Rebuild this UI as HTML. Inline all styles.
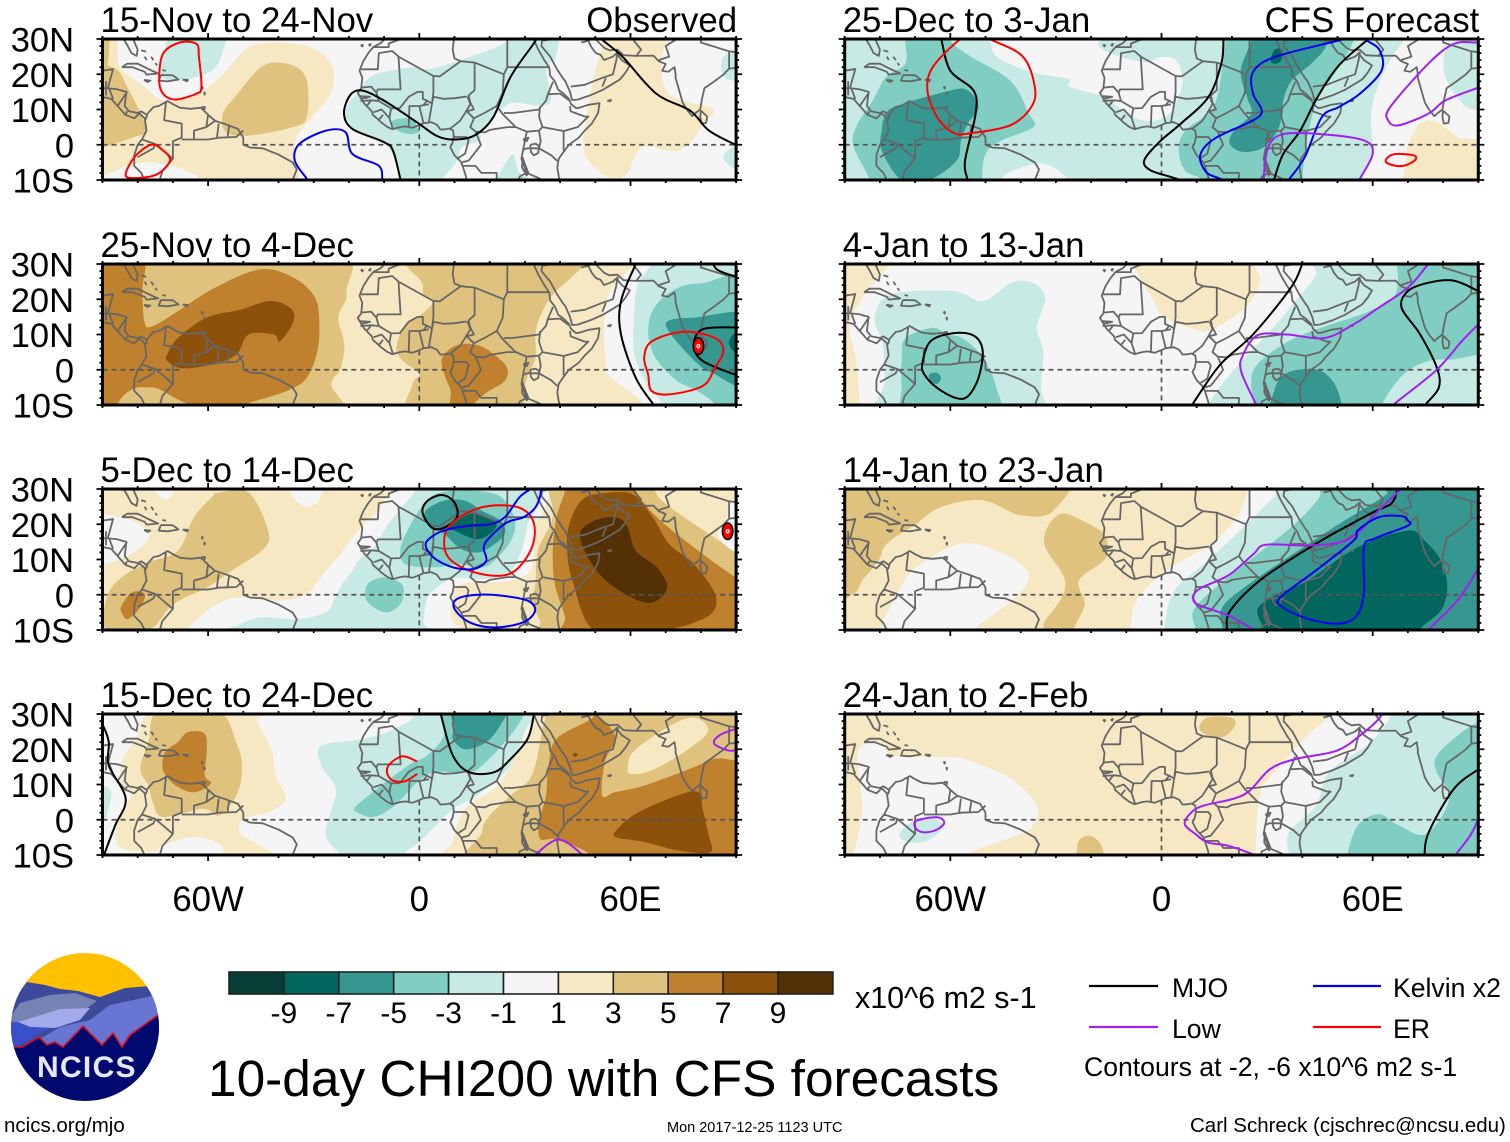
<!DOCTYPE html>
<html lang="en">
<head>
<meta charset="utf-8">
<title>10-day CHI200 with CFS forecasts</title>
<style>
html,body{margin:0;padding:0;background:#fff;width:1510px;height:1142px;overflow:hidden}
svg{display:block}
text{font-family:"Liberation Sans",sans-serif;fill:#000}
</style>
</head>
<body>
<svg id="chart" xmlns="http://www.w3.org/2000/svg" width="1510" height="1142" viewBox="0 0 1510 1142">
  <rect width="1510" height="1142" fill="#fff"/>
  <g id="panels"></g>

  <g id="colorbar"></g>
  <text x="855" y="1008" font-size="30.4">x10^6 m2 s-1</text>
  <text x="208" y="1096" font-size="51.4">10-day CHI200 with CFS forecasts</text>

  <g>
    <line x1="1089" y1="986" x2="1158" y2="986" stroke="#000" stroke-width="2.2"/>
    <text x="1172" y="997" font-size="26.6">MJO</text>
    <line x1="1313" y1="986" x2="1381" y2="986" stroke="#0000ee" stroke-width="2.2"/>
    <text x="1393" y="997" font-size="26.6">Kelvin x2</text>
    <line x1="1089" y1="1027" x2="1158" y2="1027" stroke="#a020f0" stroke-width="2.2"/>
    <text x="1172" y="1038" font-size="26.6">Low</text>
    <line x1="1313" y1="1027" x2="1381" y2="1027" stroke="#ff0000" stroke-width="2.2"/>
    <text x="1393" y="1038" font-size="26.6">ER</text>
    <text x="1084" y="1076" font-size="26.6">Contours at -2, -6 x10^6 m2 s-1</text>
  </g>

  <text x="4" y="1132" font-size="20.5">ncics.org/mjo</text>
  <text x="667" y="1132" font-size="14.5">Mon 2017-12-25 1123 UTC</text>
  <text x="1190" y="1132" font-size="20.5">Carl Schreck (cjschrec@ncsu.edu)</text>

  <defs>
    <clipPath id="logo-clip"><circle cx="85" cy="1027" r="74"/></clipPath>
  </defs>
  <g clip-path="url(#logo-clip)">
    <rect x="10" y="952" width="150" height="150" fill="#ffc000"/>
    <polygon points="5,1010 27,982 45,985 60,989 78,991 100,997 125,988 150,986 165,1000 165,1050 5,1050" fill="#3d4a9a"/>
    <polygon points="5,1025 20,1003 50,995 75,993 97,1001 80,1013 50,1022" fill="#7682b2"/>
    <polygon points="5,1060 60,1027 90,1020 110,1005 152,996 165,1015 165,1060" fill="#6676d2"/>
    <polygon points="18,1022 60,1009 90,1008 80,1020 55,1028 30,1027" fill="#a2aaea"/>
    <polygon points="5,1022 18,1022 30,1027 50,1028 20,1045 5,1052" fill="#3a50c8"/>
    <polygon points="5,1047 22,1047 39,1037 47,1045 55,1042 63,1047 83,1026 102,1045 113,1033 122,1047 130,1035 165,1010 165,1105 5,1105" fill="#000a6e"/>
    <polyline points="5,1047 22,1047 39,1037 47,1045 55,1042 63,1047 83,1026 102,1045 113,1033 122,1047 130,1035 165,1010" fill="none" stroke="#e01020" stroke-width="1.6"/>
  </g>
  <text x="37" y="1077" font-size="30" font-weight="bold" letter-spacing="1.3" style="fill:#e8e8f2">NCICS</text>
</svg>

<script>
const fillColors = {'-10':'#063f36','-8':'#01665e','-6':'#35978f','-4':'#80cdc1','-2':'#c7eae5','0':'#f5f5f5','2':'#f6e8c3','4':'#dfc27d','6':'#bf812d','8':'#8c510a','10':'#543005'};
const colorbarValues = [-10,-8,-6,-4,-2,0,2,4,6,8,10];
const colorbarTicks = [-9,-7,-5,-3,-1,1,3,5,7,9];
const lonTicks = [-60,0,60];
const lonLabels = ['60W','0','60E'];
const latTicks = [30,20,10,0,-10];
const latLabels = ['30N','20N','10N','0','10S'];
const panelTitles = ['15-Nov to 24-Nov','25-Nov to 4-Dec','5-Dec to 14-Dec','15-Dec to 24-Dec','25-Dec to 3-Jan','4-Jan to 13-Jan','14-Jan to 23-Jan','24-Jan to 2-Feb'];
const contourColors = {mjo:'#000000',kelvin:'#0000ee',low:'#a020f0',er:'#ff0000'};

/* Geography: flat lon,lat lists */
const coastlines = [
 [-9.6,31,-9.8,30,-11,28.8,-13,27.8,-14.5,26,-15.9,23.7,-17,21,-16.2,19,-16.5,16,-17.5,14.7,-16.7,13.4,-15.7,11.8,-14.5,10.5,-13.5,9.5,-13.2,8.5,-11.5,7,-10.8,6.3,-9,5,-7.7,4.4,-5.5,5,-4,5.2,-2,4.8,-0.2,5.5,1.2,6.1,3.4,6.4,5,5.7,6,4.3,7.5,4.4,8.5,4.6,9.6,4,9.8,2.3,9.4,0.4,8.8,-0.7,10,-3,11.8,-4.8,12.3,-6,13.2,-8.8,13.7,-11],
 [32.5,31,32.5,29.9,33.8,27,35.5,24,36.9,22,37.2,19.6,38.5,18,39.5,15.6,41,14.5,42.5,13,43.1,11.6,44.5,10.4,45.5,10.5,48,11.3,51.2,11.8,50.8,9,49,6,47,4,45.3,2,42.5,0,41,-2,39.6,-4,39.2,-6.5,39.8,-10,40.5,-12],
 [34.9,31,34.9,29.5,34.7,28,37.2,25,39.1,21.5,40.7,19,41.5,18,42.8,15,43.4,12.7,45,12.8,48.5,14,52,15.5,54.5,17,57,18.5,58.6,20.5,59.8,22.5,57.5,24,56.4,25.4,56.3,26.2,55,25,52.5,24,51.5,25.5,50.2,26,49,27.5,48,29.5,48.8,30.2,50,30,52.5,27.5,54,26.8,56.3,27,58,25.4,61.5,25.2,66.5,25.3,67,24.8,68,23.7,70,22.9,69,21,70.7,20.7,72.5,22,72.8,20,72.8,19,73.8,15.5,74.8,12,76,10,77.5,8.1,78.5,9,79.8,10,80.3,13,81,16,83.4,17.7,86.5,20,88,21.6,92,22],
 [80,9.7,79.8,8,80.2,6,81.5,6.2,81.8,8,80,9.7],
 [-81.5,31,-81.3,30,-80,27,-80.3,25.2,-81.8,26,-82.8,28,-84,30,-86,30.5,-92,30],
 [-92,21,-90,21,-87,21.5,-87.8,18.5,-88.5,16,-86,15.8,-83.2,15,-83.7,11,-82.5,9.5,-80,9,-79,9.5,-77.5,8.5,-75.5,10.7,-74,11,-71.5,12.4,-70,11.5,-68,10.5,-65,10.2,-62,10.5,-60,8.5,-58,6.8,-55,5.8,-51.5,4.5,-50,2,-50,0,-48,-0.8,-44.5,-1,-40,-2.8,-36,-5,-34.8,-7,-36,-10,-37,-12],
 [-92,14,-87.5,13,-85.7,11,-83.5,8.5,-81,7.5,-79.5,8.9,-78,7.5,-77.5,4,-78.8,1.5,-80,0,-81,-3,-81,-6,-79,-8,-78,-10,-77,-12],
 [-84.5,22,-83,23,-80,23,-77,21.5,-74.2,20.2,-77.5,19.9,-78,20.7,-81.5,22,-84.5,22],
 [-73.4,19.8,-70,19.7,-68.4,18.5,-71.5,18,-74,18.2,-73.4,19.8],
 [-78.2,18.4,-76.4,18.2,-77.2,17.8,-78.2,18.4],
 [-67.2,18.5,-65.7,18.4,-66,18,-67.2,18.5],
 [-79,26.8,-77.6,26.4],
 [-78,25,-77.5,24],
 [-76.2,25,-75.5,24],
 [-75,23.2,-74.5,22.5],
 [-73,21.2,-72,21],
 [-61.8,10.7,-60.9,10.7,-61,10.1,-61.8,10.1,-61.8,10.7],
 [-61.9,16.5,-61.5,16.3,-61.6,15.9,-61.9,16.5],
 [-61.1,15,-60.9,14.6,-61,14.2,-61.1,15],
 [-16.6,28.4,-16,28.2,-16.2,27.9,-16.6,28.4],
 [-14.4,28.3,-13.8,28.6,-14,28.1,-14.4,28.3],
 [53.4,12.5,54.5,12.7,54.2,12.3,53.4,12.5],
 [31.5,0,33,0.3,34,-0.3,33.8,-2.3,32.5,-3,31.7,-2,31.5,0],
 [29.3,-3.5,29.2,-6.5,30.5,-8.7,31,-8,29.8,-5,29.3,-3.5],
 [29.5,1.5,31,2,30.5,1,29.5,1.5]
];
const borders = [
 [-13,27.7,-8.7,27.7,-8.7,28.7,-4,30.5],
 [-16.6,21.4,-11.8,21.4,-11.5,26,-7.7,26.6,-5.9,25,-5.3,15.7,-11.8,15.7,-12.2,14.8,-13.7,16.5,-16.5,16.2],
 [-5.9,25,4,19.5,5.8,19.4,11.8,23.7,10,24.5,9.5,27,9.9,30.5],
 [11.8,23.7,15.7,23.3,24,20,23.7,14.7,22,11,23.7,8.7,27.4,5,30.5,3.7,34,4,35,5,41,3.9,45,5,48,8,47,8,43,9.5,42.8,11],
 [24,20,25,22,25,31],
 [25,22,36.9,22],
 [15.7,23.3,15.7,15.5,14,14,14.5,12,15.5,10,13.5,9.5,15.5,7.5,14.5,5,16,3.7,18.6,3.5,20,4.2,25,5,27.4,5],
 [15.5,7.5,18.5,9,22,11],
 [13.5,13.7,10,13.2,7,13,4,13.6,3.6,11.7,2.7,6.3],
 [4,19.5,4,15,3.6,11.7],
 [3.6,11.7,2.2,12.5,1,13,1,15,-0.5,15,-3,13.6,-5.5,10.4,-8,10.3,-8.5,7.6,-7.5,4.5],
 [-3,5,-2.8,11,0,11,1.2,6.1],
 [0,11,2.7,11.5],
 [1,11,2.2,12.5],
 [-12.2,14.8,-11.5,12.4,-8,10.3],
 [-16.7,12.4,-13.7,12.6,-11.5,12.4],
 [-15,10.9,-13.7,12.6],
 [-13,9.2,-10.7,10,-8.5,7.6],
 [-11.5,7,-10.3,8.5],
 [-16.8,13.8,-14,13.6,-15.5,13.2,-16.8,13.1],
 [13.7,13.7,14.5,11.5,13,9,11.5,6.7,8.7,4.5],
 [9.7,2.2,13.3,2.2,14,1.2,13,-2.5,11,-3.8],
 [16,3.7,17.5,0,16,-2,14,-4.5,12.2,-5],
 [12.3,-6,16,-6,17.6,-8,22,-8,22,-12],
 [24,9,26.5,9,34,10,34.5,11],
 [36.5,14.3,36,12.5,34.3,10.5,34,8,35,5],
 [36.5,14.3,38,17.9],
 [36.5,14.3,40,14.5,42.5,12.6],
 [41,3.9,41,-1.6],
 [34,4,34.5,1,34,-1,37.5,-3,39.2,-4.6],
 [30.5,3.7,29.5,-1.5,29,-4,30.5,-8,28.5,-9,28,-12],
 [29.5,-1.5,30.5,-1,34,-1],
 [30.5,-8,34,-9.5,34.7,-12],
 [34,-9.5,37.5,-11.5,40.5,-10.5],
 [35,29.5,38,30,39,32],
 [43,16.5,47,17,52,19,55,20,56,24,56.2,25.8],
 [52,16.5,53,19],
 [48,29.5,46,29],
 [61.5,25,63,27,61,29.5,61,31],
 [68,24,71,25,70,28,74,30.5],
 [80,30,80,29,88,26.5,92,26],
 [88,26.5,88,21.8],
 [-72,12,-72.5,7,-67.5,6,-67.5,2,-70,1,-70,-4,-73,-7.5,-74,-11],
 [-80,-3.5,-75.5,-1,-75,0.2,-78.8,1.5],
 [-75,0.2,-70,-4],
 [-67.5,1.5,-64,1.5,-64,4,-60.5,5,-60,8.5],
 [-64,1.5,-60,1.5,-57,2,-52,2.2,-50,4],
 [-60.5,5,-58,6.8],
 [-57,6,-57.5,2],
 [-54,5.5,-54.5,2.2],
 [-88,15.7,-87,13],
 [-83,15,-85.7,11],
 [-83,9.5,-83.5,8.5],
 [-89,18,-89,14],
 [-92,16,-89,16],
 [-77.3,8.5,-77.7,7.2],
 [-70,-10,-70,-12]
];

/* Each filled region: [value bin, [lon,lat,...]] painted in order */
const fillsP1 = [
 [0,[-95,35,95,35,95,-15,-95,-15]],
 [2,[-95,35,-87,35,-85.7,29.6,-85,22,-78,16.4,-72.8,12.6,-64.6,13.5,-56.5,19.2,-49.7,26.8,-42.9,29,-32,28,-25,23,-25.2,14.5,-32,6,-35.4,0.3,-36,-15,-62,-15,-62,-10,-67.3,-6.8,-71.4,-5.9,-77,-5,-83.7,-6.3,-90,-9,-95,-9]],
 [2,[52.4,35,70,35,70,29.6,68.7,22,71.4,14,82.3,10.7,83.7,9.3,81,6,74,-1.6,63.3,-0.7,59,-8.2,53.7,-9.2,47,-2.6,47.6,8.8,49.7,20,52.4,29.6]],
 [4,[-95,21.6,-86.4,21.6,-83,16.4,-79.6,9.7,-77.6,4,-81,2.2,-90,-0.7,-95,-0.7]],
 [4,[-90,31,-88,31,-88,29,-88.5,23,-90,22,-92,24]],
 [4,[-55.8,8.8,-52.4,13.5,-44.2,22.5,-36,22.5,-32,18.3,-32,7.8,-36,5,-48.3,2.6,-55,3.6]],
 [-2,[-17,15.4,-13,19.7,-2,22,3.4,21.6,17,25.8,25,29.6,25,35,38.8,35,38.8,24.9,36,22,37.4,12.6,33.3,11.2,25.5,11.6,18.4,5,17,1.2,12.2,-0.7,10.2,-5.4,6.8,-9.6,6,-15,-5,-15,-5.4,-9.6,-6,-6.3,-10,0.3,-19.7,5,-21,9.7]],
 [-2,[21,-12,24,-6,26.5,-2.8,27.5,-5,29,-8.5,35,-11,35,-15,21,-15]],
 [-2,[-72,35,-72,29,-73.5,21,-71.5,18.3,-67.3,18.3,-59,21,-55.8,26.8,-55,35]],
 [-2,[86,24,88,26,95,26,95,18,88,18.5,86,20.5]],
 [-2,[90,-0.2,86.4,-3.5,90,-7,95,-7,95,0]],
 [-4,[-7.5,6.9,-2,7.4,-0.7,5,0,3.6,-3.4,3.1,-6.8,4.5]]
];
const fillsP2 = [
 [0,[-95,35,95,35,95,-15,-95,-15]],
 [2,[-95,35,62,35,61,30,54,22,52.5,12,53,0,53,-15,-95,-15]],
 [-2,[68,35,66,30,62,24,61,15,61,5,64,-3,68,-8,72,-15,95,-15,95,35]],
 [-4,[95,24,80,24.5,73,23,67,18,65,11,67,3.5,73,-3,79,-6,84,-10,84,-15,95,-15]],
 [-6,[95,15,78,14.8,71,14,70.5,11.5,75.5,5.3,80.5,0.5,84,-1.3,90,-4.6,95,-5]],
 [-8,[95,10.5,90,10.5,88,7.7,90,4.8,95,4.8]],
 [4,[-95,35,-26,35,-20.7,22,-23,15,-21.3,7,-22.5,0,-25,-4,-26,-15,-95,-15]],
 [4,[-5,35,-4,30,0.6,25,1.2,21.4,4,19.5,0.6,15.7,-4,12.9,-6.5,6.2,-4.7,2.5,0,-1.3,-2,-4.2,-2.4,-15,26,-15,30,-4.2,31,-1.3,33,3.4,33,10,34.3,15,38,21.4,46,29,48,35]],
 [6,[-95,35,-78.7,35,-78.7,22.3,-78,13.3,-75.7,12.4,-68.6,16.6,-58,23.3,-45,28.5,-35.5,26,-29.6,20.4,-28.4,12.9,-29,5,-32,-2.3,-36.7,-5.6,-45,-8.4,-53,-10.2,-65,-9.8,-74,-5.5,-77,-5,-81,-5.3,-85,-8.5,-88,-15,-95,-15]],
 [8,[-71.6,4.3,-68.6,9,-60.4,14.8,-50.9,17,-42.6,19.5,-36.7,17.6,-35.7,13.8,-39.6,8.1,-41.4,10,-48.5,10,-52,4.3,-59,1.5,-67.5,0.4,-71.6,2.5]],
 [6,[6.5,3.4,10.7,7,16.6,7,21.3,4.3,24.9,0.6,24.3,-3.2,19,-6.5,14,-10.5,9,-10.5,8.9,-6,7.1,-1.3]]
];
const fillsP3 = [
 [2,[-95,35,95,35,95,-15,-95,-15]],
 [0,[-36.7,31,-28.4,31,-28.4,26.8,-32,25,-35.5,27.2]],
 [0,[-76,31,-69,31,-72,27]],
 [0,[-95,22,-85,22,-78,19,-77,16,-80.5,12.5,-86.4,9.6,-95,9.2]],
 [0,[-8,35,-8.3,30,-11.8,23.8,-16.6,19,-22.5,11.5,-27.2,5.9,-32,0.2,-40,-1.7,-51,-0.8,-58,-3,-66,-10,-66,-15,9.5,-15,8.9,-6.5,9.5,-1.7,12,3,26,4,32,7.8,33,19,36,25.7,36,35]],
 [-2,[-1.2,35,-1.2,29.5,-5.9,23.8,-9.5,19,-13,13.4,-16.6,10.6,-19,6.8,-22,3,-24.3,-1.7,-26.6,-5,-34.3,-6.9,-45,-6.4,-52,-8.8,-54.4,-10.2,-55,-15,0,-15,1.2,-7.4,2.4,-0.8,7.1,3.5,11.8,4.9,17,4.4,24.9,5.9,29,12.5,30.8,20,33,24.8,32,35]],
 [-4,[1.2,25.7,-2.4,20,-5.3,13.4,-4,8.7,4.7,7.8,10.7,8.7,17.8,7.8,21.3,9.6,26,15.3,27.2,21,24.3,26.7,20,29,10.7,29.5,4.7,28.6]],
 [-4,[-15.4,0.2,-14.2,3.5,-9.5,4.9,-4.7,2.6,-5.3,-2.6,-9.5,-5,-14.2,-2.6]],
 [-6,[2.4,20,1.8,23.8,7.1,26.7,13,26.7,17.8,23.8,23,21,24.3,17.2,20,13.4,16.6,12,11.8,13,7.1,17.2]],
 [-8,[8.3,19,14.2,22.9,19,22,22,20,20,17.2,16,15.8,10,18.2]],
 [4,[36.7,35,36.7,29.5,37.9,22,33.7,12.5,33,3,32,-1.7,34.3,-7.4,38,-15,95,-15,95,12,90,12,85.2,15.3,71,25,66.9,29.5,66,35]],
 [6,[42,35,41.4,29.5,39,22,37.9,12.5,38.5,3,41.4,-6.4,42.6,-15,95,-15,95,3,90,4.9,79.3,12.5,67.5,22,61.5,29.5,60,35]],
 [8,[46,26.7,51,28.6,60.4,28.6,66.3,22,71,14.4,78,8.7,84,0.2,82.8,-5.5,73.4,-9.3,65,-9.7,49.7,-10,43.8,3,42,12.5,42.6,20]],
 [10,[45.6,17.2,49.7,21,55.6,22,59,19.6,61.5,12.5,67.5,7.8,70.4,2,66.3,-2.2,60.4,-0.8,53,4,48.5,9.6]],
 [0,[95,27,89,27,87,21,85,16.5,90,12,95,12]],
 [4,[-59,27.6,-56.8,29,-48.5,29,-43.2,19,-43.8,13.4,-53.3,6.8,-60.4,2,-69.8,-2.6,-76.9,-10,-88.8,-10,-88.8,-0.8,-84.6,4.9,-76.9,9.2,-68.6,12.5,-64,22]],
 [6,[-84.6,-3.1,-81.6,0.7,-78,0.2,-79.3,-3.6,-82.8,-6.9,-84.6,-5]]
];
const fillsP4 = [
 [0,[-95,35,95,35,95,-15,-95,-15]],
 [2,[-74.6,31,-46,31,-46,27.7,-42,20,-40.8,12.6,-37.9,6,-42.6,2.2,-49.7,0.3,-51,-3.5,-46,-7,-41.4,-9.8,-41,-15,-55.6,-15,-55.6,-9.8,-56.8,-6.8,-64,-4.9,-72.8,-7.3,-75,-9,-85,-7.8,-85.8,-0.7,-82,6.9,-84.6,10.7,-84.6,16.4,-80.5,23]],
 [4,[-74,31,-57.4,31,-52,22,-50.3,14.5,-52,6.9,-56.8,1.2,-61.5,3.1,-72.8,0.8,-75.7,5,-77,9.7,-79.3,14.5,-77,22]],
 [6,[-68.6,22,-65.7,24.9,-61,24.4,-60.4,19.2,-61,12.6,-59.2,10.2,-64,7.8,-69.2,9.7,-72.8,14,-72.2,19.2]],
 [-2,[-95,10,-90,9.7,-87.5,7.8,-88.8,1.2,-90,-0.7,-95,-1]],
 [-2,[-1.2,35,-1.2,29.6,-7,25.8,-15.4,23,-27.8,21,-27.8,15.4,-23.7,8.8,-24.9,3.1,-26.6,-4.4,-22.5,-10,-20,-15,-6,-15,-4.7,-10,0,-6.3,9.5,3,16.6,7,26,15.4,30,25,33,29.6,33,35]],
 [-4,[5.9,35,5.9,29.6,7,23.9,2.4,18.3,-2.4,15.9,-9.5,10.7,-17.8,4,-17.8,2.2,-13,0.8,-7,4,0,11.2,4.7,13.5,14.2,13.5,17.8,15.4,24.3,22,29.6,29.6,29.6,35]],
 [-6,[10,31,23.7,31,23,26.8,19,22,13,20,9.5,23,10,26]],
 [2,[33,35,33,29.6,26,15.4,21.3,8.8,13,3.1,9.5,-6.3,8.9,-15,95,-15,95,35]],
 [4,[36,35,36,29.6,35,25.7,32,12.6,26,6.9,20,1.2,17.8,-3.5,17.8,-15,95,-15,95,35]],
 [2,[59.3,15.5,61.5,20,73,27.6,79,28.8,82,24.9,75.2,19.2,66,14,60,13]],
 [6,[49,31,49,28.7,39,23,36.7,15.4,36,6.9,34.3,0.3,34.3,-5.4,39,-5.6,48.5,-9.8,50,-15,95,-15,95,16.8,90,16.8,84,17.3,77,14.5,63.9,9.7,55.6,7.8,52,6.9,52.7,16.4,55.6,23.9]],
 [8,[56,-3,61.5,1.7,73.4,6.9,79.3,7.8,80.5,3,82.2,-4.4,82.6,-9.2,73.4,-8.7,64,-6.3,56,-5]],
 [8,[44,19,45,18.6,44.5,17.8,43.8,18]]
];
const fillsP5 = [
 [-2,[-95,35,95,35,95,-15,-95,-15]],
 [0,[-48.5,35,-48.5,29.6,-46.7,24.9,-37,20.6,-26.7,18.7,-26,16.4,-16.4,13.5,-7.9,7.8,-1.8,6.9,3,9.7,6,18,4.2,23.9,0,24.9,-5.5,23.5,-17.6,27.7,-17,35]],
 [0,[-45.5,-9.6,-40.6,-6.8,-33.4,-5.4,-26.7,-9.6,-26,-15,-46,-15]],
 [0,[69,35,68.6,29.6,66,25.8,62.5,19.2,60,11.6,59.5,6,60,-2.6,57,-9.6,56,-15,95,-15,95,9.7,90,9.7,85.6,11.6,80.7,19.2,80.7,26.8,85.6,29.6,86,35]],
 [2,[69.8,-0.7,73.4,6,78.3,6.4,84.3,2.2,90,1.7,95,1.7,95,-15,68,-15,68.6,-9.6,69.8,-4]],
 [-4,[-72.8,35,-72.8,29.6,-72.8,23,-78.3,19.2,-82,12.6,-86.8,5,-87.4,-0.7,-83,-9.6,-82,-15,-51,-15,-51,-9.6,-50,-2.6,-45.5,1.2,-36.4,5,-37.6,8.8,-43,18.2,-54,24.9,-60,29.6,-60,35]],
 [-6,[-79.5,4,-78.3,8.8,-74.6,11.2,-60,15.4,-55,15.4,-52,10.7,-55,6,-57,1.2,-57.6,-3.5,-61.3,-7.3,-67.4,-10.5,-74,-10,-79.5,-1.6]],
 [-4,[18.2,35,18.2,29.6,17,20,15.8,13.5,13.3,8.8,6.7,4,4.9,-1.6,6.7,-7.3,11.5,-10,12,-15,40,-15,40,-9.6,41.3,1.2,44.3,12.6,50.4,22,54.6,29.6,55,35]],
 [-6,[25.5,35,25.5,29.6,22.5,21,24.3,13.5,25.5,8.8,20.6,4,19.4,0.3,23,-2,29,-0.7,33.4,5,34.6,12.6,37,18.2,42.5,23,46.7,28,47,35]],
 [-8,[31,24,32.2,27,34.3,27,34,24,32.2,23]]
];
const fillsP6 = [
 [0,[-95,35,95,35,95,-15,-95,-15]],
 [2,[-95,35,-77.4,35,-77.4,30,-81.5,25,-85,20.4,-88.6,12.9,-86.9,3.4,-85.7,-9.5,-85.7,-15,-95,-15]],
 [2,[-8,35,-8,30,-2.2,19.5,0.7,14.8,9.6,11.4,14.3,11.4,21.4,15.7,26,20.4,28,26,26,30,26,35]],
 [-2,[-81.5,14.8,-76.8,21.4,-59,22.3,-50.8,19.5,-42.5,24.7,-36.6,24.7,-33,20.4,-35.4,11.9,-33.6,5.3,-34.2,-5,-33,-9.5,-33,-15,-78.6,-15,-78.6,-3.2,-79.2,7.2]],
 [-4,[-73.8,3.4,-72.7,9,-65,11.9,-60.8,10,-56.7,9,-51.4,4.3,-47.2,-4.2,-47,-15,-72,-15,-73.8,-4.2]],
 [-6,[-66,-1.3,-63.8,-0.9,-62.6,-2.3,-63.8,-4,-65.6,-3.2]],
 [-2,[13,-15,13.7,-9.5,20.2,-0.4,30.9,11,38,19.5,43.9,27,45,35,95,35,95,-15]],
 [-4,[26,-15,26,-9.5,26,-0.4,33,6.2,42.7,11,59,16.6,66.4,21.4,67,30,67,35,95,35,95,5,90,4.3,83,3,75.9,2.5,68.8,-1.3,62.8,-9.5,62,-15]],
 [-6,[32,-6,35.6,-0.9,43.9,0.1,48.6,-3.2,51,-9,51,-15,32,-15]]
];
const fillsP7 = [
 [2,[-95,35,95,35,95,-15,-95,-15]],
 [0,[-79.8,-9.8,-75.6,-0.7,-69.7,7.8,-56.7,14.5,-44.9,11.6,-37.8,6,-41.3,-0.7,-53.2,-9.8,-55,-15,-80,-15]],
 [0,[-9,-15,-8.8,-9.8,-7,-1.6,1.3,6.9,14.3,14.5,21.4,22,24.4,29.6,25,35,95,35,95,-15]],
 [-2,[0.7,-15,0.7,-9.8,3.7,1.2,14.3,10.7,26.2,22,33.3,29.6,34,35,95,35,95,-15]],
 [-4,[9.6,-15,9.6,-9.8,9.6,-3.5,21.4,6.9,36.8,19.2,45,28,46,35,95,35,95,-15]],
 [-6,[17.3,-15,17.3,-9.8,17.3,-3.5,26.2,4,47.5,18.2,62.8,27.7,64,29.6,65,35,95,35,95,-15]],
 [-8,[27.3,-4,33.3,0.3,41.5,4,55.7,13.5,70,18.2,74.7,15.4,79.4,9.7,81.2,2.2,79.4,-4.4,73.5,-9.8,73,-15,30,-15,29,-9.8]],
 [4,[-95,35,-30.7,35,-30.7,23.9,-40,22.5,-50.8,26.8,-62.6,24.9,-69.7,20.1,-78,14.5,-80.4,9.7,-85,4,-87.5,0.3,-95,0.3]],
 [4,[-28.3,23,-22.4,21,-16.4,17.3,-15.3,13.5,-16.4,9.7,-23.5,4,-21.8,-2.6,-24.7,-9.2,-26,-15,-34,-15,-33.6,-9.8,-33,-7.3,-28.3,-0.7,-27.7,5,-33,13.5,-32.4,19.2]]
];
const fillsP8 = [
 [2,[-95,35,95,35,95,-15,-95,-15]],
 [0,[-87.5,-9.9,-85,3,-86.2,19,-80.4,22,-75.6,18,-59,17.7,-50.8,15.3,-42.5,11.5,-35.4,4,-36.6,-1.7,-41.3,-4.5,-52,-8.3,-54.4,-9.9,-55,-15,-88,-15]],
 [0,[26,-15,26.7,-9.9,27.3,3,28.5,8.7,32,13.4,40.4,22.9,46.3,28,47.5,29.5,48,35,95,35,95,-15]],
 [-2,[36,-15,36.2,-9.9,36.2,-3.6,43.9,4,47.5,13.4,59.3,21.9,65.2,29.5,66,35,95,35,95,-15]],
 [-4,[52.5,-15,52.8,-10,55.7,-1.7,61.7,1.6,67.6,-1.7,75.3,-4,81.8,5.9,78.2,13.4,78.2,18.2,85.3,24.8,90,27.6,95,28,95,-15]],
 [4,[10.8,25.7,13,29,19.6,29,21,27,18.2,23.8,14.7,23.4]],
 [4,[-24.1,-9.9,-23.5,-6,-20.6,-4.5,-17.6,-6.4,-16.4,-9.9,-16,-15,-24,-15]],
 [-2,[-74.4,-4,-70.3,-0.3,-64.4,0.2,-62,-2.2,-66.7,-6,-72,-6.4]]
];

/* Each contour: [series, closed(1/0), [lon,lat,...]] */
const contoursP1 = [
 ['er',1,[-68,29,-72.8,25.8,-73.9,18.3,-72.8,14.5,-69.4,12.8,-63.3,14.5,-61.9,16.4,-62.6,24.9,-63.3,28.6]],
 ['er',1,[-76.2,0,-80.9,-3.5,-83.4,-8.7,-79.6,-9.4,-74.2,-8.2,-70.8,-4.4,-72.8,-1.6]],
 ['kelvin',0,[-31,-11,-32,-9.6,-35.4,-4.4,-34,0.3,-26.5,4,-21,3.6,-19,-2.6,-11.6,-5.9,-10.5,-9.6,-10.5,-11]],
 ['mjo',0,[-5,-11,-5.4,-9.6,-7.5,-1.6,-10.2,0.8,-19,4.5,-21.4,8.8,-19.7,14,-16.3,15.4,-10.2,12.6,-0.7,6.4,4.8,2.6,9.5,1.5,15.6,2.6,21,7.8,25.9,19.2,32.7,29,33.5,31]],
 ['mjo',0,[50,32,51.7,30,57.8,24.9,67.3,14.5,76.9,9.7,82.3,4,89.8,0,92,-1]]
];
const contoursP2 = [
 ['mjo',0,[62.5,32,61.5,30,57.3,19.5,57.3,10,61.5,-2.3,66.3,-9.6,67,-11]],
 ['mjo',0,[92,12,90,12,80.5,11.5,78,7,80.5,2.5,90,-1.5,92,-2]],
 ['mjo',0,[83,31,84.5,28.5,88,27,92,26]],
 ['er',1,[75,10.8,66,8,63.9,3.4,65,-1.3,66,-6,71,-7,80.5,-4.6,84,0.6,86.4,5.3,84,9]]
];
const contoursP3 = [
 ['mjo',1,[6.5,28.3,2.4,26.7,0.9,23.4,3.6,19,7,19,10.7,22,10,26.2]],
 ['er',1,[20,25.2,13,22.9,7.7,18.2,7.7,11.5,13,7.3,21.3,5.4,27.2,6.8,32,13.4,32.5,20.5,28.4,24.7]],
 ['kelvin',1,[34.5,29,33,24.8,29.6,22,24.9,20.5,20,16.3,18.3,13.4,19,9.6,15.4,7.3,9.5,7.8,4,10.6,1.8,14.4,4.7,17.2,8.3,18.6,14.2,19.6,20,20,24.3,22,28.4,27.6,31.4,29.8,33.5,31]],
 ['kelvin',1,[16.6,0,10.7,-1.2,10,-4,14.2,-7.8,21.3,-9.3,29.6,-7.8,32.9,-4.5,30.8,-1.7,23.7,-0.3]]
];
const contoursP4 = [
 ['mjo',0,[-92,30,-89.9,26.8,-88.2,22,-88.2,15.4,-83.4,6,-86.4,-1.6,-89.3,-9.2,-90,-11]],
 ['mjo',0,[5.8,31,6.2,29.6,9.5,18.3,14.2,13.5,21.3,13.5,26,17.3,30.8,23,32.5,29.6,32.5,31]],
 ['er',0,[-0.6,16.5,-4.7,18,-8.3,15.9,-9.2,13.5,-7.7,11.2,-4.1,10.9,-0.6,13]],
 ['low',0,[32,-11,33.1,-9.8,39.6,-5.6,46.2,-9.8,47,-11]],
 ['low',0,[92,26,90,25.8,85.2,23.9,83.8,21.6,87.6,19.7,90,19.7,92,20]]
];
const contoursP5 = [
 ['mjo',0,[-63,31,-62.5,29.6,-60,21,-53.4,15.4,-52.8,8.8,-55.8,-4.4,-55.2,-9.6,-55,-11]],
 ['er',1,[-57.6,29.6,-65,22,-66.5,15.4,-63.7,7.8,-58.9,3.3,-54,3.3,-43,5.5,-37,10.7,-36,16.4,-39.4,25,-48,29.6,-53,31.5]],
 ['mjo',0,[17.6,31,17.6,29.6,17,23,13.3,13.5,5.5,6,-0.6,0.8,-4.9,-4.4,-3,-7.3,4.2,-9.6,7,-11]],
 ['mjo',0,[60,31,58.3,29.6,50.4,22.5,44.3,13.5,39.4,4,34.6,-2.6,32.2,-9.2,32,-11]],
 ['kelvin',0,[55,31,50.4,29.6,32.2,24.9,26,20.6,26,14.5,28.5,9.7,26,6.9,15,1.7,11,-3,12.7,-7.8,16.6,-9.6,19,-11]],
 ['kelvin',0,[57,31,58.3,29.6,62,26.8,62.5,21,56.4,14.5,50.4,10.7,45.5,7.8,40.7,-3.5,36.4,-9.6,35,-11]],
 ['low',0,[29,-11,29,-9.6,30.3,-0.7,34.6,3,45.5,3,57.6,1.2,60,-2.6,56.4,-9.6,56,-11]],
 ['low',0,[92,29,89.2,29,83,28.6,75.8,23,65,10.7,64.4,6.9,67.3,5.5,75.8,8.8,80.7,12.6,90,16.2,92,17]],
 ['er',1,[63.7,-4.4,66,-2.7,71.6,-3,72,-4.4,68.6,-6,65,-5.6]]
];
const contoursP6 = [
 ['mjo',0,[41,32,40,30,36.8,23.3,26,10,16.7,1.5,9,-9.5,8,-11]],
 ['mjo',1,[-67.9,2,-65.6,8.1,-59,10.4,-53.2,9.6,-50.8,5.3,-52,-2.3,-55,-7.5,-58.5,-8,-63.8,-5.1,-67.4,-1.3]],
 ['mjo',0,[92,21,90,22.3,83,25.3,75.9,24.7,70,22.3,68.2,17.6,73.5,10,78.2,0.6,78.8,-5,75.3,-9.5,74,-11]],
 ['low',0,[27.5,-11,26.7,-9.5,22.6,-0.4,23.2,4.3,27.3,9.8,35.6,10,46.3,9,54.6,12.9,61.7,17.6,70,23.3,75.3,29.4,77,32]],
 ['low',0,[65,-11,66.4,-9.5,78.2,0,85.3,8.1,90,12.9,92,15]]
];
const contoursP7 = [
 ['mjo',0,[18,-11,18.5,-9.8,19.6,-4.4,28.5,4.5,43.9,14.5,59.3,23,65.2,25.8,67,29.6,68,32]],
 ['low',0,[28,-11,26,-9.8,19,-5.9,10.8,-3,9,-1.1,10.8,1.7,19,5.5,26.2,11.6,29.7,14.2,42.7,14,53.4,15.9,61.7,23.9,67.6,29.6,70,32]],
 ['low',0,[74,-11.5,75.9,-9.8,84.1,-1.6,90,7.4,92,10]],
 ['kelvin',1,[70,21,68.2,22.3,61.7,22,55.7,18.2,54.6,15.4,43.9,6.9,33.8,-0.7,34.4,-3.5,41.5,-6.8,49.8,-8.2,55.1,-6.3,57.5,0.3,57.5,13.5,60.5,15.9,70,19.6]]
];
const contoursP8 = [
 ['low',0,[28,-11,26.2,-9.9,19,-7.4,13.1,-6.4,9.6,-4,6.6,-1.2,8.4,2,12,4,20.2,5.9,25,8.2,30.9,14.4,38,17.2,49.8,19.6,56.9,24.3,61.7,28.6,63,31]],
 ['low',1,[-69.7,-0.3,-63.8,0.7,-61.7,-0.8,-63.8,-2.8,-67.3,-3.6,-69.7,-2.6]],
 ['mjo',0,[74.5,-11,74.7,-9.9,75.9,-3.6,83,8.7,90.1,14.4,92,16]],
 ['low',0,[83,-11,83.6,-9.9,87.7,-4.5,90,0.2,91,3]]
];
/* Tropical-cyclone style bullseye markers: panel index, lon, lat */
const stormPanels = [1,2];
const stormLons = [79.3,87.6];
const stormLats = [6.7,18];

const panelFills = [fillsP1,fillsP2,fillsP3,fillsP4,fillsP5,fillsP6,fillsP7,fillsP8];
const panelContours = [contoursP1,contoursP2,contoursP3,contoursP4,contoursP5,contoursP6,contoursP7,contoursP8];

const NS = 'http://www.w3.org/2000/svg';
const ZERO_X = [419.3,1161.5];
const TOP_Y = [39,264,489,714];
const PX_LON = 3.52;
const PX_LAT = 3.525;
const svgRoot = document.getElementById('panels');
function make(tag,parent){const el=document.createElementNS(NS,tag);parent.appendChild(el);return el;}
function lonToX(lon,col){return ZERO_X[col]+lon*PX_LON;}
function latToY(lat,row){return TOP_Y[row]+(30-lat)*PX_LAT;}
function toPoints(flat,col,row){const pts=[];for(let i=0;i+1<flat.length;i+=2){pts.push([lonToX(flat[i],col),latToY(flat[i+1],row)]);}return pts;}
function smoothPath(pts,closed){
  const n=pts.length;
  const at=i=>closed?pts[(i+n)%n]:pts[Math.max(0,Math.min(n-1,i))];
  let d='M'+pts[0][0].toFixed(1)+' '+pts[0][1].toFixed(1);
  const segs=closed?n:n-1;
  for(let i=0;i<segs;i++){
    const p0=at(i-1),p1=at(i),p2=at(i+1),p3=at(i+2);
    const c1x=p1[0]+(p2[0]-p0[0])/6,c1y=p1[1]+(p2[1]-p0[1])/6;
    const c2x=p2[0]-(p3[0]-p1[0])/6,c2y=p2[1]-(p3[1]-p1[1])/6;
    d+='C'+c1x.toFixed(1)+' '+c1y.toFixed(1)+' '+c2x.toFixed(1)+' '+c2y.toFixed(1)+' '+p2[0].toFixed(1)+' '+p2[1].toFixed(1);
  }
  return d+(closed?'Z':'');
}
function straightPath(pts){return 'M'+pts.map(p=>p[0].toFixed(1)+' '+p[1].toFixed(1)).join('L');}

panelTitles.forEach((title,idx)=>{
  const col=idx<4?0:1,row=idx%4;
  const x0=lonToX(-90,col),x1=lonToX(90,col),y0=latToY(30,row),y1=latToY(-10,row);
  const g=make('g',svgRoot);
  
  
  const clipId='clip-'+idx;
  const defs=make('defs',g);
  const cp=make('clipPath',defs);cp.setAttribute('id',clipId);
  const cr=make('rect',cp);cr.setAttribute('x',x0);cr.setAttribute('y',y0);cr.setAttribute('width',x1-x0);cr.setAttribute('height',y1-y0);
  const inner=make('g',g);
  inner.setAttribute('clip-path','url(#'+clipId+')');
  
  

  panelFills[idx].forEach(item=>{
    const el=make('path',inner);
    el.setAttribute('d',smoothPath(toPoints(item[1],col,row),true));
    el.setAttribute('fill',fillColors[String(item[0])]);
    
    
  });

  const eq=[[-90,-68],[-50,9],[42,90]];
  eq.forEach(seg=>{
    const el=make('line',inner);
    el.setAttribute('x1',lonToX(seg[0],col));el.setAttribute('x2',lonToX(seg[1],col));
    el.setAttribute('y1',latToY(0,row));el.setAttribute('y2',latToY(0,row));
    el.setAttribute('stroke','#555');el.setAttribute('stroke-width','1.7');el.setAttribute('stroke-dasharray','5 4');
    
    
  });
  const mer=make('line',inner);
  mer.setAttribute('x1',lonToX(0,col));mer.setAttribute('x2',lonToX(0,col));
  mer.setAttribute('y1',latToY(5.5,row));mer.setAttribute('y2',latToY(-10,row));
  mer.setAttribute('stroke','#555');mer.setAttribute('stroke-width','1.7');mer.setAttribute('stroke-dasharray','5 4');
  
  

  const geo=make('path',inner);
  geo.setAttribute('d',coastlines.concat(borders).map(c=>straightPath(toPoints(c,col,row))).join(''));
  geo.setAttribute('fill','none');geo.setAttribute('stroke','#666');geo.setAttribute('stroke-width','1.8');geo.setAttribute('stroke-linejoin','round');
  
  

  panelContours[idx].forEach(item=>{
    const el=make('path',inner);
    el.setAttribute('d',smoothPath(toPoints(item[2],col,row),item[1]===1));
    el.setAttribute('fill','none');
    el.setAttribute('stroke',contourColors[item[0]]);
    el.setAttribute('stroke-width','2');
    
    
  });

  stormPanels.forEach((p,i)=>{
    if(p!==idx)return;
    const cx=lonToX(stormLons[i],col),cy=latToY(stormLats[i],row);
    const s=make('g',inner);
    
    
    [[6,9,'#000'],[4.5,7.5,'#ff0000'],[2,2.2,'#fff'],[0.9,0.9,'#ff0000']].forEach(r=>{
      const e=make('ellipse',s);
      e.setAttribute('cx',cx);e.setAttribute('cy',cy);e.setAttribute('rx',r[0]);e.setAttribute('ry',r[1]);e.setAttribute('fill',r[2]);
    });
  });

  const ticks=make('g',g);
  
  
  let td='';
  for(let lon=-90;lon<=90;lon+=10){
    const x=lonToX(lon,col),len=lonTicks.includes(lon)?6:3;
    td+='M'+x+' '+y0+'V'+(y0-len)+'M'+x+' '+y1+'V'+(y1+len);
  }
  for(let lat=-10;lat<=30;lat+=2){
    const y=latToY(lat,row),len=lat%10===0?6:3;
    td+='M'+x0+' '+y+'H'+(x0-len)+'M'+x1+' '+y+'H'+(x1+len);
  }
  const tp=make('path',ticks);
  tp.setAttribute('d',td);tp.setAttribute('stroke','#000');tp.setAttribute('stroke-width','1.8');tp.setAttribute('fill','none');

  const frame=make('rect',g);
  frame.setAttribute('x',x0);frame.setAttribute('y',y0);frame.setAttribute('width',x1-x0);frame.setAttribute('height',y1-y0);
  frame.setAttribute('fill','none');frame.setAttribute('stroke','#000');frame.setAttribute('stroke-width','3');
  
  

  const tt=make('text',g);
  tt.textContent=title;
  tt.setAttribute('x',x0-2);tt.setAttribute('y',y0-7);tt.setAttribute('font-size','34.8');
  
  

  if(row===0){
    const tag=make('text',g);
    tag.textContent=col===0?'Observed':'CFS Forecast';
    tag.setAttribute('x',x1+1);tag.setAttribute('y',y0-7);tag.setAttribute('font-size','34.8');tag.setAttribute('text-anchor','end');
    
    
  }
  if(col===0){
    latTicks.forEach((lat,i)=>{
      const lb=make('text',g);
      lb.textContent=latLabels[i];
      lb.setAttribute('x',74);lb.setAttribute('y',latToY(lat,row)+12.5);lb.setAttribute('font-size','34.5');lb.setAttribute('text-anchor','end');
      
      
    });
  }
  if(row===3){
    lonTicks.forEach((lon,i)=>{
      const lb=make('text',g);
      lb.textContent=lonLabels[i];
      lb.setAttribute('x',lonToX(lon,col));lb.setAttribute('y',911);lb.setAttribute('font-size','34.8');lb.setAttribute('text-anchor','middle');
      
      
    });
  }
});

const barRoot=document.getElementById('colorbar');
const BAR_X=229,BAR_W=54.9,BAR_Y=972,BAR_H=22;
colorbarValues.forEach((v,i)=>{
  const el=make('rect',barRoot);
  el.setAttribute('x',BAR_X+i*BAR_W);el.setAttribute('y',BAR_Y);el.setAttribute('width',BAR_W);el.setAttribute('height',BAR_H);
  el.setAttribute('fill',fillColors[String(v)]);el.setAttribute('stroke','#222');el.setAttribute('stroke-width','1.6');
  
  
});
colorbarTicks.forEach((t,i)=>{
  const el=make('text',barRoot);
  el.textContent=t;
  el.setAttribute('x',BAR_X+(i+1)*BAR_W);el.setAttribute('y',1023);el.setAttribute('font-size','30');el.setAttribute('text-anchor','middle');
  
  
});
</script>
</body>
</html>
